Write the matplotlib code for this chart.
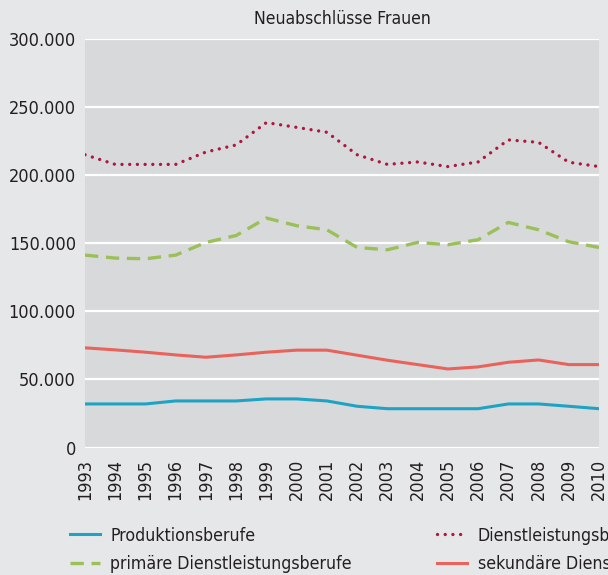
import matplotlib
matplotlib.use('Agg')
import matplotlib.pyplot as plt
from matplotlib.ticker import FuncFormatter

plt.rcParams['font.family'] = ['DejaVu Sans']
plt.rcParams['font.stretch'] = 'condensed'

years = list(range(1993, 2011))

# Neuabschlüsse Frauen (in tausend)
produktion = [32.0, 32.0, 32.0, 34.2, 34.2, 34.2, 35.7, 35.7, 34.2, 30.3,
              28.5, 28.5, 28.5, 28.5, 32.0, 32.0, 30.3, 28.5]
primaer = [141.3, 139.1, 138.6, 141.3, 150.6, 155.7, 168.5, 162.9, 159.9, 146.9,
           145.2, 150.6, 148.9, 152.6, 165.3, 159.9, 151.1, 146.9]
dienstleistung = [215.0, 207.9, 207.9, 207.9, 217.0, 222.2, 238.6, 235.1, 231.5, 215.0,
                  207.9, 209.7, 206.3, 209.7, 225.9, 224.1, 209.5, 206.3]
sekundaer = [73.2, 71.7, 70.0, 68.0, 66.3, 68.0, 70.0, 71.5, 71.5, 67.8,
             64.1, 60.9, 57.7, 59.2, 62.6, 64.3, 60.9, 60.9]

labels = ['Produktionsberufe', 'primäre Dienstleistungsberufe',
          'Dienstleistungsberufe', 'sekundäre Dienstleistungsberufe']

fig = plt.figure(figsize=(6.08, 5.75), dpi=100, facecolor='#e6e7e9')
ax = fig.add_axes([0.1398, 0.2217, 0.8454, 0.7105])
ax.set_facecolor('#d8d9db')

k = lambda v: [x * 1000 for x in v]
ax.plot(years, k(produktion), color='#1fa3c4', lw=2.2, label=labels[0])
ax.plot(years, k(primaer), color='#9bc05a', lw=2.4, dashes=(4, 2.3), label=labels[1])
ax.plot(years, k(dienstleistung), color='#b0153d', lw=2.4, dashes=(0.01, 2.3),
        dash_capstyle='round', label=labels[2])
ax.plot(years, k(sekundaer), color='#e9625b', lw=2.2, label=labels[3])

ax.set_xlim(1993, 2010)
ax.set_ylim(0, 300000)
ax.set_yticks(range(0, 300001, 50000))
ax.yaxis.set_major_formatter(FuncFormatter(lambda v, p: f'{int(v):,}'.replace(',', '.')))
ax.set_xticks(years)
ax.set_xticklabels([str(y) for y in years], rotation=90)
ax.tick_params(length=0, colors='#231f20', labelsize=13)
ax.tick_params(axis='y', pad=6.5)
ax.tick_params(axis='x', pad=8)
ax.grid(axis='y', color='white', lw=1.6)
ax.set_axisbelow(True)
for s in ax.spines.values():
    s.set_visible(False)

ax.set_title('Neuabschlüsse Frauen', fontsize=12.6, color='#231f20', pad=10.5)

fig.legend(loc='upper left', bbox_to_anchor=(0.10, 0.0996), ncol=2, frameon=False,
           borderpad=0, fontsize=12.7, handlelength=1.7, columnspacing=4.85,
           labelspacing=0.6, handletextpad=0.6, labelcolor='#231f20')

fig.savefig('out.png', dpi=100, facecolor=fig.get_facecolor())
